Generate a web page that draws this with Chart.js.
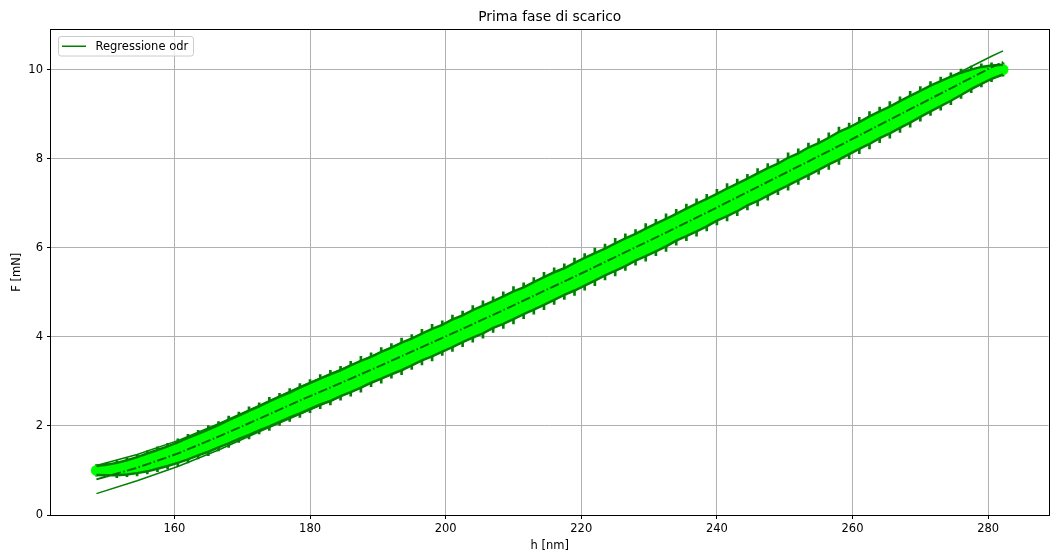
<!DOCTYPE html>
<html>
<head>
<meta charset="utf-8">
<script src="https://cdn.jsdelivr.net/npm/chart.js@4.4.1/dist/chart.umd.min.js"></script>
<style>
html,body{margin:0;padding:0;background:#fff;}
#wrap{width:1057px;height:558px;}
</style>
</head>
<body>
<div id="wrap"><canvas id="c" width="1057" height="558"></canvas></div>
<script>
// Unloading data: penetration depth h [nm], load F [mN]
const hData = [148.5,150,151.5,153,154.5,156,157.5,159,160.5,162,
  163.5,165,166.5,168,169.5,171,172.5,174,175.5,177,
  178.5,180,181.5,183,184.5,186,187.5,189,190.5,192,
  193.5,195,196.5,198,199.5,201,202.5,204,205.5,207,
  208.5,210,211.5,213,214.5,216,217.5,219,220.5,222,
  223.5,225,226.5,228,229.5,231,232.5,234,235.5,237,
  238.5,240,241.5,243,244.5,246,247.5,249,250.5,252,
  253.5,255,256.5,258,259.5,261,262.5,264,265.5,267,
  268.5,270,271.5,273,274.5,276,277.5,279,280.5,282.2];
const fData = [1.00,1.01,1.03,1.07,1.12,1.18,1.25,1.32,1.40,1.49,
  1.58,1.67,1.77,1.87,1.97,2.07,2.17,2.27,2.37,2.47,
  2.57,2.67,2.77,2.86,2.96,3.06,3.16,3.26,3.36,3.46,
  3.56,3.66,3.77,3.87,3.97,4.08,4.18,4.29,4.39,4.50,
  4.60,4.71,4.81,4.92,5.03,5.14,5.24,5.35,5.46,5.57,
  5.68,5.79,5.90,6.01,6.12,6.23,6.34,6.46,6.57,6.68,
  6.79,6.91,7.02,7.13,7.25,7.36,7.48,7.59,7.71,7.82,
  7.94,8.05,8.17,8.29,8.40,8.52,8.64,8.76,8.87,8.99,
  9.11,9.23,9.35,9.46,9.57,9.68,9.78,9.87,9.94,10.00];
// half spread of the measured band [mN]
const bandHalf = [0.10,0.12,0.14,0.16,0.18,0.20,0.21,0.22,0.23,0.24,
  0.24,0.25,0.25,0.26,0.26,0.27,0.27,0.28,0.28,0.28,
  0.29,0.29,0.29,0.30,0.29,0.30,0.30,0.29,0.30,0.30,
  0.31,0.30,0.30,0.31,0.30,0.31,0.30,0.31,0.31,0.30,
  0.31,0.31,0.30,0.31,0.31,0.31,0.30,0.31,0.31,0.31,
  0.30,0.31,0.31,0.30,0.31,0.31,0.31,0.30,0.31,0.31,
  0.31,0.30,0.31,0.31,0.30,0.31,0.31,0.30,0.31,0.30,
  0.31,0.30,0.30,0.31,0.30,0.30,0.31,0.30,0.30,0.30,
  0.30,0.29,0.29,0.28,0.27,0.25,0.22,0.19,0.15,0.11];
// error bar half length [mN]
const errHalf = [0.13,0.16,0.19,0.21,0.24,0.26,0.28,0.29,0.31,0.32,
  0.32,0.34,0.33,0.35,0.34,0.36,0.35,0.37,0.36,0.37,
  0.38,0.37,0.38,0.39,0.38,0.39,0.40,0.38,0.40,0.39,
  0.41,0.39,0.40,0.41,0.39,0.41,0.40,0.41,0.42,0.40,
  0.41,0.42,0.40,0.41,0.42,0.41,0.40,0.42,0.41,0.42,
  0.40,0.42,0.41,0.40,0.42,0.41,0.42,0.40,0.41,0.42,
  0.41,0.40,0.42,0.41,0.40,0.42,0.41,0.40,0.42,0.40,
  0.41,0.40,0.41,0.42,0.40,0.41,0.42,0.40,0.41,0.40,
  0.40,0.39,0.38,0.37,0.36,0.33,0.30,0.26,0.21,0.15];

// ODR regression curve and its bounds
const hFit = [148.5,154.5,160.5,166.5,172.5,178.5,184.5,190.5,196.5,202.5,208.5,214.5,
  220.5,226.5,232.5,238.5,244.5,250.5,256.5,262.5,268.5,274.5,280.5,282.2];
const fitF = [0.80,1.06,1.38,1.76,2.16,2.57,2.96,3.36,3.77,4.18,4.60,5.03,
  5.46,5.90,6.34,6.79,7.25,7.71,8.17,8.64,9.11,9.58,10.05,10.17];
const fitUpper = [1.11,1.36,1.67,2.05,2.46,2.88,3.26,3.66,4.07,4.47,4.89,5.31,
  5.74,6.18,6.62,7.06,7.52,7.97,8.43,8.90,9.37,9.84,10.30,10.42];
const fitLower = [0.48,0.77,1.09,1.46,1.87,2.26,2.66,3.06,3.47,3.88,4.30,4.74,
  5.17,5.61,6.06,6.51,6.97,7.43,7.90,8.37,8.85,9.32,9.80,9.92];

const xTicks = [160,180,200,220,240,260,280];
const yTicks = [0,2,4,6,8,10];

const GREEN = '#008000';
const DARK = '#006d00';
const LIME = '#00ff00';
const FONT = '"DejaVu Sans", sans-serif';
const FS = 11.5;

const pts = (xs, ys) => xs.map((x, i) => ({x, y: ys[i]}));

const frame = {
  id: 'frame',
  afterDatasetsDraw(chart) {
    const {ctx, chartArea: a} = chart;
    ctx.save();
    ctx.strokeStyle = '#000';
    ctx.lineWidth = 1;
    ctx.strokeRect(Math.round(a.left) - 0.5, Math.round(a.top) - 0.5,
      Math.round(a.right) - Math.round(a.left) + 1, Math.round(a.bottom) - Math.round(a.top) + 1);
    ctx.restore();
  }
};

const legendBox = {
  id: 'legendBox',
  afterDraw(chart) {
    const {ctx, chartArea: a} = chart;
    const ds = chart.data.datasets[0];
    const x = a.left + 7.5, y = a.top + 7, w = 135, h = 19.5, r = 2.5;
    ctx.save();
    ctx.beginPath();
    ctx.moveTo(x + r, y);
    ctx.arcTo(x + w, y, x + w, y + h, r);
    ctx.arcTo(x + w, y + h, x, y + h, r);
    ctx.arcTo(x, y + h, x, y, r);
    ctx.arcTo(x, y, x + w, y, r);
    ctx.closePath();
    ctx.fillStyle = 'rgba(255,255,255,0.8)';
    ctx.fill();
    ctx.strokeStyle = '#cccccc';
    ctx.lineWidth = 1;
    ctx.stroke();
    ctx.beginPath();
    ctx.moveTo(x + 3.5, y + h / 2);
    ctx.lineTo(x + 27.5, y + h / 2);
    ctx.strokeStyle = ds.borderColor;
    ctx.lineWidth = 1.5;
    ctx.stroke();
    ctx.fillStyle = '#000';
    ctx.font = FS + 'px ' + FONT;
    ctx.textBaseline = 'middle';
    ctx.textAlign = 'left';
    ctx.fillText(ds.label, x + 37, y + h / 2 + 0.5);
    ctx.restore();
  }
};

const lineBase = {type: 'line', pointRadius: 0, pointHoverRadius: 0, tension: 0, fill: false};

new Chart(document.getElementById('c'), {
  type: 'line',
  data: {
    datasets: [
      // 0: upper bound of the regression
      Object.assign({}, lineBase, {label: 'Regressione odr', data: pts(hFit, fitUpper),
        borderColor: GREEN, borderWidth: 1.5, order: 7}),
      // 1: lower bound of the regression
      Object.assign({}, lineBase, {label: 'lower', data: pts(hFit, fitLower),
        borderColor: GREEN, borderWidth: 1.5, order: 7}),
      // 2: error bars
      {type: 'bar', label: 'err', data: hData.map((x, i) => ({x, y: [fData[i] - errHalf[i], fData[i] + errHalf[i]]})),
        backgroundColor: GREEN, borderWidth: 0, barThickness: 2, order: 6},
      // 3-4: measured band fill
      Object.assign({}, lineBase, {label: 'bandTop', data: pts(hData, fData.map((v, i) => v + bandHalf[i])),
        borderWidth: 0, borderColor: 'rgba(0,0,0,0)', backgroundColor: LIME, fill: 4, order: 5}),
      Object.assign({}, lineBase, {label: 'bandBottom', data: pts(hData, fData.map((v, i) => v - bandHalf[i])),
        borderWidth: 0, borderColor: 'rgba(0,0,0,0)', order: 5}),
      // 5: data points
      {type: 'scatter', label: 'dati', data: pts(hData, fData), showLine: false,
        pointRadius: 5.5, pointHoverRadius: 5.5, pointBackgroundColor: LIME, pointBorderWidth: 0, order: 4},
      // 6-7: band edges
      Object.assign({}, lineBase, {label: 'edgeTop', data: pts(hData, fData.map((v, i) => v + bandHalf[i])),
        borderColor: GREEN, borderWidth: 2.5, order: 3}),
      Object.assign({}, lineBase, {label: 'edgeBottom', data: pts(hData, fData.map((v, i) => v - bandHalf[i])),
        borderColor: GREEN, borderWidth: 2.5, order: 3}),
      // 8: regression curve
      Object.assign({}, lineBase, {label: 'fit', data: pts(hFit, fitF),
        borderColor: DARK, borderWidth: 2, borderDash: [9.6, 2.4, 1.5, 2.4], order: 1})
    ]
  },
  options: {
    responsive: false,
    animation: false,
    devicePixelRatio: 1,
    layout: {padding: {left: 0, right: 8.5, top: 0, bottom: 0}},
    plugins: {
      legend: {display: false},
      tooltip: {enabled: false},
      title: {
        display: true, text: 'Prima fase di scarico', fullSize: false,
        color: '#000', font: {family: FONT, size: 13.8, weight: 'normal'},
        padding: {top: 8.7, bottom: 4.24}
      }
    },
    scales: {
      x: {
        type: 'linear', min: 141.8, max: 288.9, offset: false,
        afterFit: s => { s.height = 43; },
        afterBuildTicks: s => { s.ticks = xTicks.map(v => ({value: v})); },
        grid: {color: '#b0b0b0', lineWidth: 1, tickColor: '#000', tickLength: 4, offset: false},
        border: {display: false},
        ticks: {color: '#000', font: {family: FONT, size: FS}, padding: 3, maxRotation: 0,
          callback: v => String(v)},
        title: {display: true, text: 'h [nm]', color: '#000', font: {family: FONT, size: FS},
          padding: {top: 0, bottom: 4.6}}
      },
      y: {
        type: 'linear', min: 0, max: 10.9,
        afterFit: s => { s.width = 51; },
        afterBuildTicks: s => { s.ticks = yTicks.map(v => ({value: v})); },
        grid: {color: '#b0b0b0', lineWidth: 1, tickColor: '#000', tickLength: 4},
        border: {display: false},
        ticks: {color: '#000', font: {family: FONT, size: FS}, padding: 4,
          callback: v => String(v)},
        title: {display: true, text: 'F [mN]', color: '#000', font: {family: FONT, size: FS},
          padding: {top: 10.1, bottom: 0}}
      }
    }
  },
  plugins: [frame, legendBox]
});
</script>
</body>
</html>
